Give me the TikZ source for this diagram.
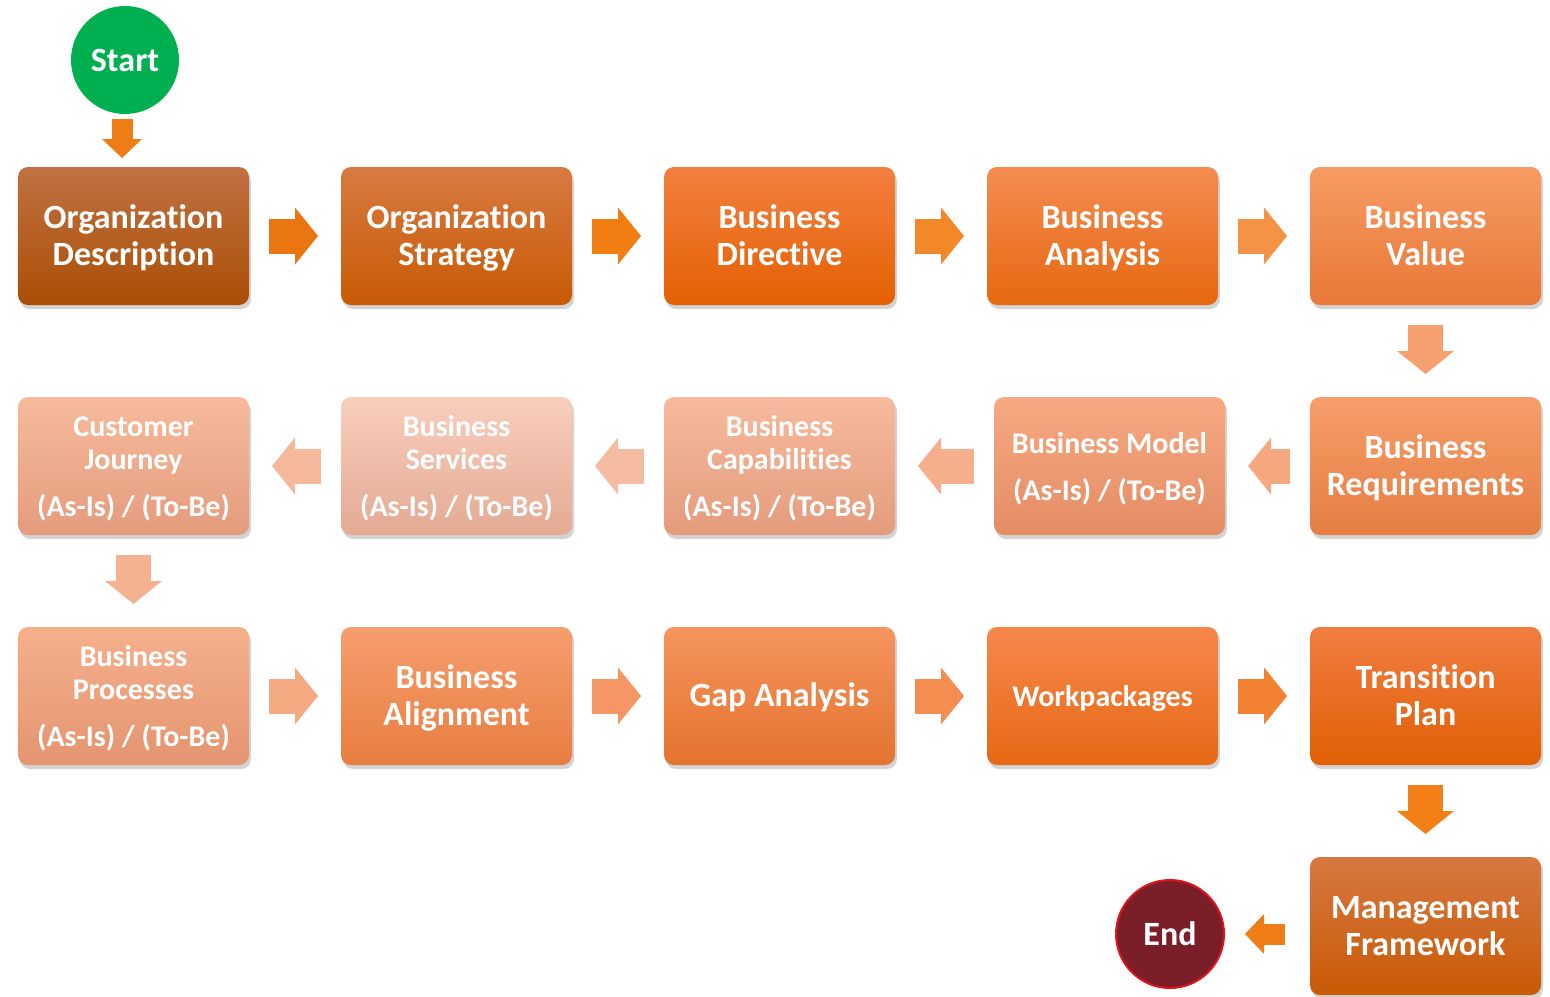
\documentclass[tikz,border=0pt]{standalone}
\usepackage{fontspec}
\setmainfont{Carlito}[Ligatures=NoCommon]
\usetikzlibrary{positioning,shadows,arrows.meta}

\definecolor{startgreen}{RGB}{0,176,80}
\definecolor{endred}{RGB}{122,30,40}
\definecolor{endrim}{RGB}{225,20,30}
\definecolor{odT}{RGB}{192,114,66}\definecolor{odB}{RGB}{170,78,6}
\definecolor{osT}{RGB}{216,122,66}\definecolor{osB}{RGB}{200,90,4}
\definecolor{bdT}{RGB}{242,128,64}\definecolor{bdB}{RGB}{228,96,2}
\definecolor{baT}{RGB}{245,140,82}\definecolor{baB}{RGB}{230,104,16}
\definecolor{bvT}{RGB}{247,155,100}\definecolor{bvB}{RGB}{232,120,55}
\definecolor{brT}{RGB}{246,158,106}\definecolor{brB}{RGB}{230,125,66}
\definecolor{bmT}{RGB}{246,170,130}\definecolor{bmB}{RGB}{228,140,100}
\definecolor{bcT}{RGB}{247,186,156}\definecolor{bcB}{RGB}{228,155,125}
\definecolor{bsT}{RGB}{248,206,188}\definecolor{bsB}{RGB}{228,170,148}
\definecolor{cjT}{RGB}{247,186,156}\definecolor{cjB}{RGB}{228,155,125}
\definecolor{bpT}{RGB}{246,176,140}\definecolor{bpB}{RGB}{228,148,112}
\definecolor{alT}{RGB}{246,158,110}\definecolor{alB}{RGB}{232,125,65}
\definecolor{gaT}{RGB}{246,148,95}\definecolor{gaB}{RGB}{228,115,45}
\definecolor{wpT}{RGB}{246,135,75}\definecolor{wpB}{RGB}{230,105,20}
\definecolor{tpT}{RGB}{240,125,65}\definecolor{tpB}{RGB}{225,95,5}
\definecolor{mfT}{RGB}{215,120,65}\definecolor{mfB}{RGB}{200,90,5}
% arrow colours
\definecolor{arA}{RGB}{237,125,20}
\definecolor{arB}{RGB}{234,118,18}
\definecolor{arC}{RGB}{240,126,18}
\definecolor{arD}{RGB}{243,136,40}
\definecolor{arE}{RGB}{244,146,70}
\definecolor{arF}{RGB}{245,160,110}
\definecolor{arG}{RGB}{245,168,128}
\definecolor{arH}{RGB}{245,175,140}
\definecolor{arI}{RGB}{246,188,162}
\definecolor{arJ}{RGB}{245,184,154}
\definecolor{arK}{RGB}{245,178,145}
\definecolor{arL}{RGB}{245,170,130}
\definecolor{arM}{RGB}{245,150,100}
\definecolor{arN}{RGB}{245,140,80}
\definecolor{arO}{RGB}{242,130,50}
\definecolor{arP}{RGB}{242,128,22}

\tikzset{
	stage/.style 2 args={rectangle, rounded corners=5pt, minimum width=115.5pt, minimum height=69pt,
		top color=#1, bottom color=#2, text=white, text width=111pt, align=flush center, inner sep=2pt, outer sep=0pt,
		font=\bfseries\fontsize{17pt}{18.5pt}\selectfont,
		execute at begin node=\rule{0pt}{16pt},
		execute at end node=\rule[-5.5pt]{0pt}{0pt},
		drop shadow={shadow xshift=1pt, shadow yshift=-2pt, opacity=0.35}},
	small/.style={font=\bfseries\fontsize{15pt}{16.5pt}\selectfont},
	terminal/.style={circle, minimum size=54pt, inner sep=0pt, outer sep=0pt, text=white,
		font=\bfseries\fontsize{17pt}{18.5pt}\selectfont},
	flow/.style={line width=17.5pt, draw=#1, shorten <=10pt, shorten >=11.5pt,
		-{Triangle[width=28.5pt,length=11.5pt,line width=0pt]}},
	miniflow/.style={line width=10.5pt, draw=#1,
		-{Triangle[width=20pt,length=9.5pt,line width=0pt]}}
}

\begin{document}
\begin{tikzpicture}[node distance=46pt]
	\useasboundingbox (-66.75pt,118pt) rectangle (708.25pt,-380pt);
	% first row
	\node[stage={odT}{odB}] (orgdesc) at (0,0) {Organization\\Description};
	\node[stage={osT}{osB}, right=of orgdesc] (orgstrat) {Organization\\Strategy};
	\node[stage={bdT}{bdB}, right=of orgstrat] (busdir) {Business\\Directive};
	\node[stage={baT}{baB}, right=of busdir] (busana) {Business\\Analysis};
	\node[stage={bvT}{bvB}, right=of busana] (busval) {Business\\Value};
	% second row, right to left
	\node[stage={brT}{brB}, below=of busval] (busreq) {Business\\Requirements};
	\node[stage={bmT}{bmB}, small, left=42.5pt of busreq] (busmodel) {Business Model\\[7pt](As-Is) / (To-Be)};
	\node[stage={bcT}{bcB}, small, below=of busdir] (buscap) {Business\\Capabilities\\[7pt](As-Is) / (To-Be)};
	\node[stage={bsT}{bsB}, small, left=of buscap] (busserv) {Business\\Services\\[7pt](As-Is) / (To-Be)};
	\node[stage={cjT}{cjB}, small, left=of busserv] (custjour) {Customer\\Journey\\[7pt](As-Is) / (To-Be)};
	% third row
	\node[stage={bpT}{bpB}, small, below=of custjour] (busproc) {Business\\Processes\\[7pt](As-Is) / (To-Be)};
	\node[stage={alT}{alB}, right=of busproc] (busalign) {Business\\Alignment};
	\node[stage={gaT}{gaB}, right=of busalign] (gapana) {Gap Analysis};
	\node[stage={wpT}{wpB}, small, right=of gapana] (workpkg) {Workpackages};
	\node[stage={tpT}{tpB}, right=of workpkg] (transplan) {Transition\\Plan};
	\node[stage={mfT}{mfB}, below=of transplan] (mgmtfw) {Management\\Framework};
	% start and end
	\node[terminal, fill=startgreen, above=26.5pt of orgdesc, xshift=-4.25pt] (start) {Start};
	\node[terminal, fill=endred, draw=endrim, line width=1pt, left=43pt of mgmtfw, yshift=-4pt] (finish) {End};
	
	\draw[miniflow=arA, shorten <=2.5pt, shorten >=4.5pt] ([xshift=-1.5pt]start.south) -- ([xshift=-1.5pt]start.south |- orgdesc.north);
	\draw[flow=arB] (orgdesc) -- (orgstrat);
	\draw[flow=arC] (orgstrat) -- (busdir);
	\draw[flow=arD] (busdir) -- (busana);
	\draw[flow=arE] (busana) -- (busval);
	\draw[flow=arF] (busval) -- (busreq);
	\draw[flow=arG] (busreq) -- (busmodel);
	\draw[flow=arH] (busmodel) -- (buscap);
	\draw[flow=arI] (buscap) -- (busserv);
	\draw[flow=arJ] (busserv) -- (custjour);
	\draw[flow=arK] (custjour) -- (busproc);
	\draw[flow=arL] (busproc) -- (busalign);
	\draw[flow=arM] (busalign) -- (gapana);
	\draw[flow=arN] (gapana) -- (workpkg);
	\draw[flow=arO] (workpkg) -- (transplan);
	\draw[flow=arP] (transplan) -- (mgmtfw);
	\draw[miniflow=arA, shorten <=12.5pt, shorten >=10.5pt] (mgmtfw.west |- finish) -- (finish.east);
	
\end{tikzpicture}
\end{document}
